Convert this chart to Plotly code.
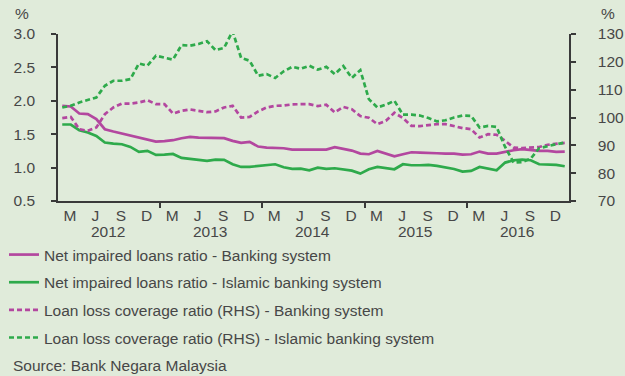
import plotly.graph_objects as go

# ---- data (monthly, Jan 2012 .. Dec 2016) ----
months = list(range(60))
nil_bank = [1.925, 1.915, 1.81, 1.80, 1.725, 1.575, 1.54, 1.51, 1.475, 1.45, 1.425, 1.39,
            1.395, 1.41, 1.44, 1.46, 1.45, 1.445, 1.45, 1.44, 1.40, 1.37, 1.385, 1.315,
            1.30, 1.30, 1.29, 1.27, 1.27, 1.26, 1.27, 1.27, 1.305, 1.28, 1.255, 1.21,
            1.20, 1.25, 1.21, 1.17, 1.20, 1.23, 1.225, 1.225, 1.215, 1.21, 1.21, 1.195,
            1.20, 1.24, 1.21, 1.21, 1.24, 1.26, 1.275, 1.26, 1.25, 1.25, 1.235, 1.24]
nil_islamic = [1.645, 1.645, 1.56, 1.525, 1.475, 1.375, 1.36, 1.35, 1.31, 1.235, 1.25, 1.19,
               1.195, 1.205, 1.145, 1.13, 1.115, 1.10, 1.12, 1.115, 1.05, 1.01, 1.01, 1.025,
               1.03, 1.05, 1.005, 0.98, 0.985, 0.96, 1.0, 0.98, 0.99, 0.97, 0.955, 0.91,
               0.975, 1.01, 0.99, 0.975, 1.05, 1.035, 1.035, 1.04, 1.025, 1.0, 0.98, 0.94,
               0.95, 1.01, 0.98, 0.96, 1.075, 1.11, 1.12, 1.11, 1.05, 1.05, 1.04, 1.02]
llc_bank = [99.8, 100.2, 95.8, 95.2, 96.4, 101.2, 103.6, 105.0, 105.0, 105.4, 106.2, 104.8,
            104.8, 101.4, 102.4, 102.9, 102.4, 101.9, 102.2, 103.6, 104.2, 100.0, 100.2, 102.2,
            103.6, 104.2, 104.3, 104.7, 104.8, 104.8, 104.1, 104.6, 101.8, 103.8, 103.0, 100.5,
            99.9, 97.6, 98.8, 101.7, 99.8, 97.0, 96.9, 97.2, 97.6, 97.6, 96.9, 96.2,
            95.8, 92.8, 94.0, 93.8, 91.6, 89.2, 89.0, 89.2, 89.4, 90.2, 90.6, 90.9]
llc_islamic = [103.6, 104.2, 105.4, 106.2, 107.2, 111.4, 113.2, 113.2, 113.8, 119.4, 118.6, 122.2,
               121.6, 120.8, 126.0, 125.8, 126.4, 127.4, 124.2, 125.0, 131.0, 121.4, 120.4, 115.0,
               115.6, 114.2, 116.6, 118.2, 117.5, 118.6, 117.2, 118.2, 115.6, 118.5, 114.2, 117.0,
               106.6, 103.6, 104.6, 106.0, 101.0, 101.0, 100.7, 99.8, 98.6, 99.0, 100.0, 100.7,
               100.6, 96.4, 97.0, 96.6, 89.4, 83.8, 84.0, 85.2, 89.0, 89.8, 90.4, 91.0]

month_letters = ["M", "J", "S", "D"]
years = ["2012", "2013", "2014", "2015", "2016"]
left_ticks = [0.5, 1.0, 1.5, 2.0, 2.5, 3.0]
right_ticks = [70, 80, 90, 100, 110, 120, 130]

series_names = [
    "Net impaired loans ratio - Banking system",
    "Net impaired loans ratio - Islamic banking system",
    "Loan loss coverage ratio (RHS) - Banking system",
    "Loan loss coverage ratio (RHS) - Islamic banking system",
]

MAG = "#B3479F"
GRN = "#2EAA4B"
BG = "#E0EBDA"
AX = "#3A3A3A"
TXT = "#474747"
FONT = "Liberation Sans, Arial, sans-serif"
FS = 15.5

month_pos = [0.9 + 3 * k + 12 * y for y in range(5) for k in range(4)]
month_txt = [month_letters[k] for y in range(5) for k in range(4)]
year_sep = [11.5 + 12 * y for y in range(4)]
year_pos = [5.4 + 12 * y for y in range(5)]

fig = go.Figure()
specs = [
    (nil_bank, MAG, "solid", "y"),
    (nil_islamic, GRN, "solid", "y"),
    (llc_bank, MAG, "5px,3px", "y2"),
    (llc_islamic, GRN, "5px,3px", "y2"),
]
for i, (vals, col, dash, yax) in enumerate(specs):
    fig.add_trace(go.Scatter(
        x=months, y=vals, mode="lines", name=series_names[i],
        line=dict(color=col, width=2.7, dash=dash),
        yaxis=yax, legendgroup=f"g{i}",
    ))

fig.update_layout(
    width=625, height=376, autosize=False,
    margin=dict(l=58, r=56, t=34, b=175, pad=0, autoexpand=False),
    paper_bgcolor=BG, plot_bgcolor=BG,
    font=dict(family=FONT, size=FS, color=TXT),
    showlegend=True,
    legend=dict(
        orientation="v", xref="container", yref="container",
        x=4 / 625, xanchor="left", y=1 - 238 / 376, yanchor="top",
        bgcolor="rgba(0,0,0,0)", borderwidth=0,
        font=dict(family=FONT, size=FS, color=TXT),
        tracegroupgap=4.5, traceorder="grouped",
    ),
    xaxis=dict(
        range=[-0.5, 59.5], tickmode="array", tickvals=month_pos, ticktext=month_txt,
        ticks="", showline=True, linecolor=AX, linewidth=1.5,
        showgrid=False, zeroline=False, tickfont=dict(size=FS, color=TXT),
        ticklabelstandoff=0,
        minor=dict(tickmode="array", tickvals=year_sep, ticks="outside",
                   ticklen=5, tickwidth=1.5, tickcolor=AX, showgrid=False),
    ),
    yaxis=dict(
        range=[0.5, 3.0], tickmode="array", tickvals=left_ticks, tickformat=".1f",
        ticks="outside", ticklen=5, tickwidth=1.5, tickcolor=AX,
        showline=True, linecolor=AX, linewidth=1.5, showgrid=False, zeroline=False,
        tickfont=dict(size=FS, color=TXT), ticklabelstandoff=13,
    ),
    yaxis2=dict(
        range=[70, 130], overlaying="y", side="right", anchor="x",
        tickmode="array", tickvals=right_ticks,
        ticks="outside", ticklen=5, tickwidth=1.5, tickcolor=AX,
        showline=True, linecolor=AX, linewidth=1.5, showgrid=False, zeroline=False,
        tickfont=dict(size=FS, color=TXT), ticklabelstandoff=19,
    ),
)

ann = []
for yr, xp in zip(years, year_pos):
    ann.append(dict(text=yr, x=xp, xref="x", y=(201 - 231) / 167, yref="paper",
                    showarrow=False, xanchor="center", yanchor="middle",
                    font=dict(size=FS, color=TXT)))
ann.append(dict(text="%", x=(13 - 58) / 511, xref="paper", y=(201 - 13) / 167, yref="paper",
                showarrow=False, xanchor="left", yanchor="middle", font=dict(size=FS, color=TXT)))
ann.append(dict(text="%", x=(617 - 58) / 511, xref="paper", y=(201 - 13) / 167, yref="paper",
                showarrow=False, xanchor="right", yanchor="middle", font=dict(size=FS, color=TXT)))
ann.append(dict(text="Source: Bank Negara Malaysia", x=(11 - 58) / 511, xref="paper",
                y=(201 - 365) / 167, yref="paper", showarrow=False,
                xanchor="left", yanchor="middle", font=dict(size=FS, color=TXT)))
fig.update_layout(annotations=ann)

fig.write_html("out.html")
